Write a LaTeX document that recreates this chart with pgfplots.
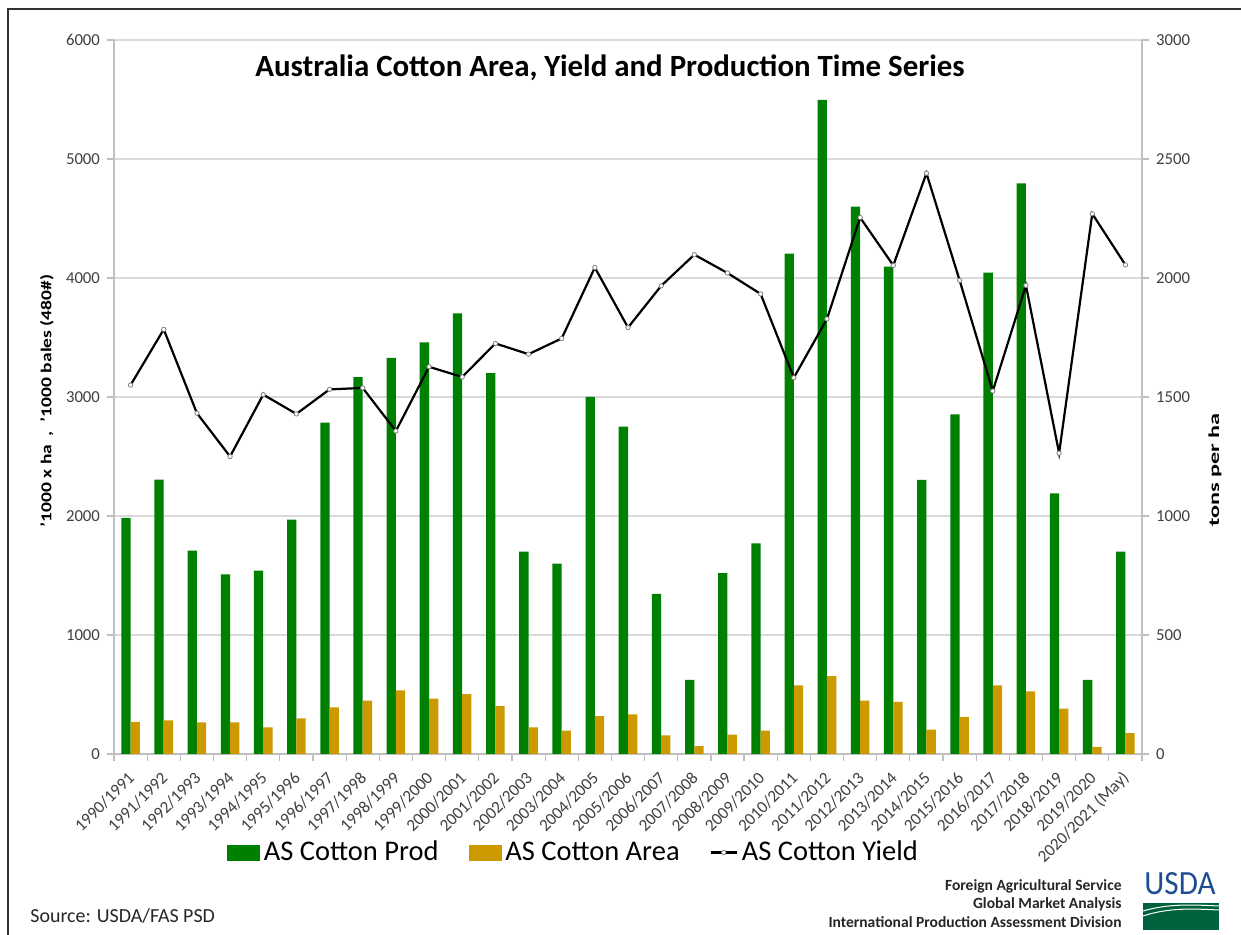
\documentclass[border=0pt]{standalone}
\usepackage{pgfplots}
\pgfplotsset{compat=1.18}
\usepackage{pgfplotstable}
\usepackage{fontspec}
\setmainfont{Carlito}

\definecolor{prodgreen}{RGB}{0,128,0}
\definecolor{areagold}{RGB}{204,153,0}
\definecolor{gridgray}{RGB}{217,217,217}
\definecolor{axisgray}{RGB}{191,191,191}
\definecolor{ticktext}{RGB}{64,64,64}
\definecolor{usdablue}{RGB}{30,78,145}
\definecolor{usdagreen}{RGB}{0,98,60}

% i = season index, 0 = 1990/1991
\pgfplotstableread{
i  prod  area  yield
0  1985  271   1550
1  2306  283   1784
2  1710  266   1432
3  1510  266   1250
4  1540  224   1510
5  1970  300   1429
6  2785  392   1532
7  3168  448   1538
8  3328  535   1357
9  3459  465   1627
10 3703  504   1584
11 3200  403   1725
12 1700  224   1680
13 1600  196   1746
14 3000  319   2044
15 2750  333   1792
16 1345  157   1967
17 622   67    2098
18 1520  162   2021
19 1770  196   1933
20 4204  577   1581
21 5496  655   1828
22 4600  448   2254
23 4095  437   2053
24 2303  204   2440
25 2855  313   1990
26 4045  577   1525
27 4796  527   1969
28 2190  381   1264
29 622   59    2270
30 1700  176   2055
}\cotton

\pgfplotsset{
  base/.style={
    width=514bp, height=357bp, scale only axis,
    at={(57bp,90.5bp)}, anchor=south west,
    xmin=-0.5, xmax=30.5,
    tick align=outside,
    tick style={axisgray, line width=0.6bp},
    major tick length=3.5bp,
    ticklabel style={font=\fontsize{8.4}{9}\selectfont, text=ticktext},
    /pgf/number format/assume math mode=true,
    /pgf/number format/1000 sep={},
    axis line style={axisgray, line width=0.7bp},
  },
}

\begin{document}
\begin{tikzpicture}
\path[use as bounding box] (0,0) rectangle (620.5bp,467.5bp);
\fill[white] (0,0) rectangle (620.5bp,467.5bp);
\draw[black!80, line width=1.2bp] (4bp,0) -- (4bp,463bp) -- (620.5bp,463bp);

\begin{axis}[base,
  ymin=0, ymax=6000, ytick={0,1000,...,6000},
  axis y line*=left, axis x line*=bottom,
  ymajorgrids, grid style={gridgray, line width=0.7bp},
  ybar=0pt, bar width=4.65bp,
  xtick={0,...,30}, major x tick style={draw=none},
  minor xtick={-0.5,0.5,...,30.5}, minor x tick style={axisgray, line width=0.6bp},
  minor tick length=3.5bp,
  xticklabels={1990/1991,1991/1992,1992/1993,1993/1994,1994/1995,1995/1996,1996/1997,1997/1998,1998/1999,1999/2000,2000/2001,2001/2002,2002/2003,2003/2004,2004/2005,2005/2006,2006/2007,2007/2008,2008/2009,2009/2010,2010/2011,2011/2012,2012/2013,2013/2014,2014/2015,2015/2016,2016/2017,2017/2018,2018/2019,2019/2020,2020/2021 (May)},
  xticklabel style={rotate=45, anchor=east, font=\fontsize{8.6}{9}\selectfont, xshift=-1.2bp, yshift=-5.3bp},
  ylabel={\textbf{'1000 x ha\ \ ,\ \ '1000 bales (480\#)}},
  ylabel style={font=\fontsize{7.6}{8}\selectfont, at={(rel axis cs:0,0.5)}, anchor=center,
    yshift=33.5bp, xshift=-2bp, xscale=1.29},
]
\addplot[fill=prodgreen, draw=none] table[x=i, y=prod] {\cotton};
\addplot[fill=areagold, draw=none] table[x=i, y=area] {\cotton};
\end{axis}

\begin{axis}[base,
  ymin=0, ymax=3000, ytick={0,500,...,3000},
  axis y line*=right, axis x line=none,
  ylabel={\textbf{tons per ha}},
  ylabel style={font=\fontsize{7.6}{8}\selectfont, at={(rel axis cs:1,0.5)}, anchor=center,
    yshift=-36.5bp, xshift=-36.5bp, xscale=1.6},
  legend style={draw=none, fill=none, at={(0.448,-0.138)}, anchor=center,
    font=\fontsize{14.3}{15}\selectfont, legend columns=3,
    /tikz/every even column/.append style={column sep=13bp}},
  legend cell align=left,
]
\addlegendimage{legend image code/.code={\fill[prodgreen] (0bp,-3.8bp) rectangle (16bp,3.8bp);}}
\addlegendentry{AS Cotton Prod}
\addlegendimage{legend image code/.code={\fill[areagold] (0bp,-3.8bp) rectangle (16bp,3.8bp);}}
\addlegendentry{AS Cotton Area}
\addplot[black, line width=1.1bp, mark=*, mark size=1.1bp,
  mark options={fill=white, draw=gray, line width=0.4bp},
  legend image code/.code={\draw[black, line width=1.1bp] (0bp,0bp) -- (13bp,0bp);
    \filldraw[fill=white, draw=gray, line width=0.4bp] (6.5bp,0bp) circle (1.1bp);}]
  table[x=i, y=yield] {\cotton};
\addlegendentry{AS Cotton Yield}
\end{axis}

\node[font=\bfseries\fontsize{15.5}{17}\selectfont] at (305bp,433.5bp)
  {Australia Cotton Area, Yield and Production Time Series};

\node[anchor=west, inner sep=0pt, font=\fontsize{10}{11}\selectfont, text=black!85] at (15bp,9.5bp) {Source: USDA/FAS PSD};
\node[anchor=east, inner sep=0pt, font=\bfseries\fontsize{7.8}{8}\selectfont, text=black!85] at (561bp,24.5bp) {Foreign Agricultural Service};
\node[anchor=east, inner sep=0pt, font=\bfseries\fontsize{7.8}{8}\selectfont, text=black!85] at (561bp,15.5bp) {Global Market Analysis};
\node[anchor=east, inner sep=0pt, font=\bfseries\fontsize{7.8}{8}\selectfont, text=black!85] at (561bp,6.5bp) {International Production Assessment Division};

% USDA logo
\node[font=\fontsize{17}{18}\selectfont, text=usdablue, inner sep=0pt, xscale=0.92] at (590bp,25.5bp) {USDA};
\fill[usdagreen] (571.5bp,2.5bp) rectangle (609.5bp,16bp);
\draw[white, line width=0.5bp] (571.5bp,12bp) .. controls (585bp,16bp) and (598bp,15bp) .. (609.5bp,14.5bp);
\draw[white, line width=0.5bp] (571.5bp,9.5bp) .. controls (585bp,14bp) and (598bp,13bp) .. (609.5bp,12.5bp);
\end{tikzpicture}
\end{document}
